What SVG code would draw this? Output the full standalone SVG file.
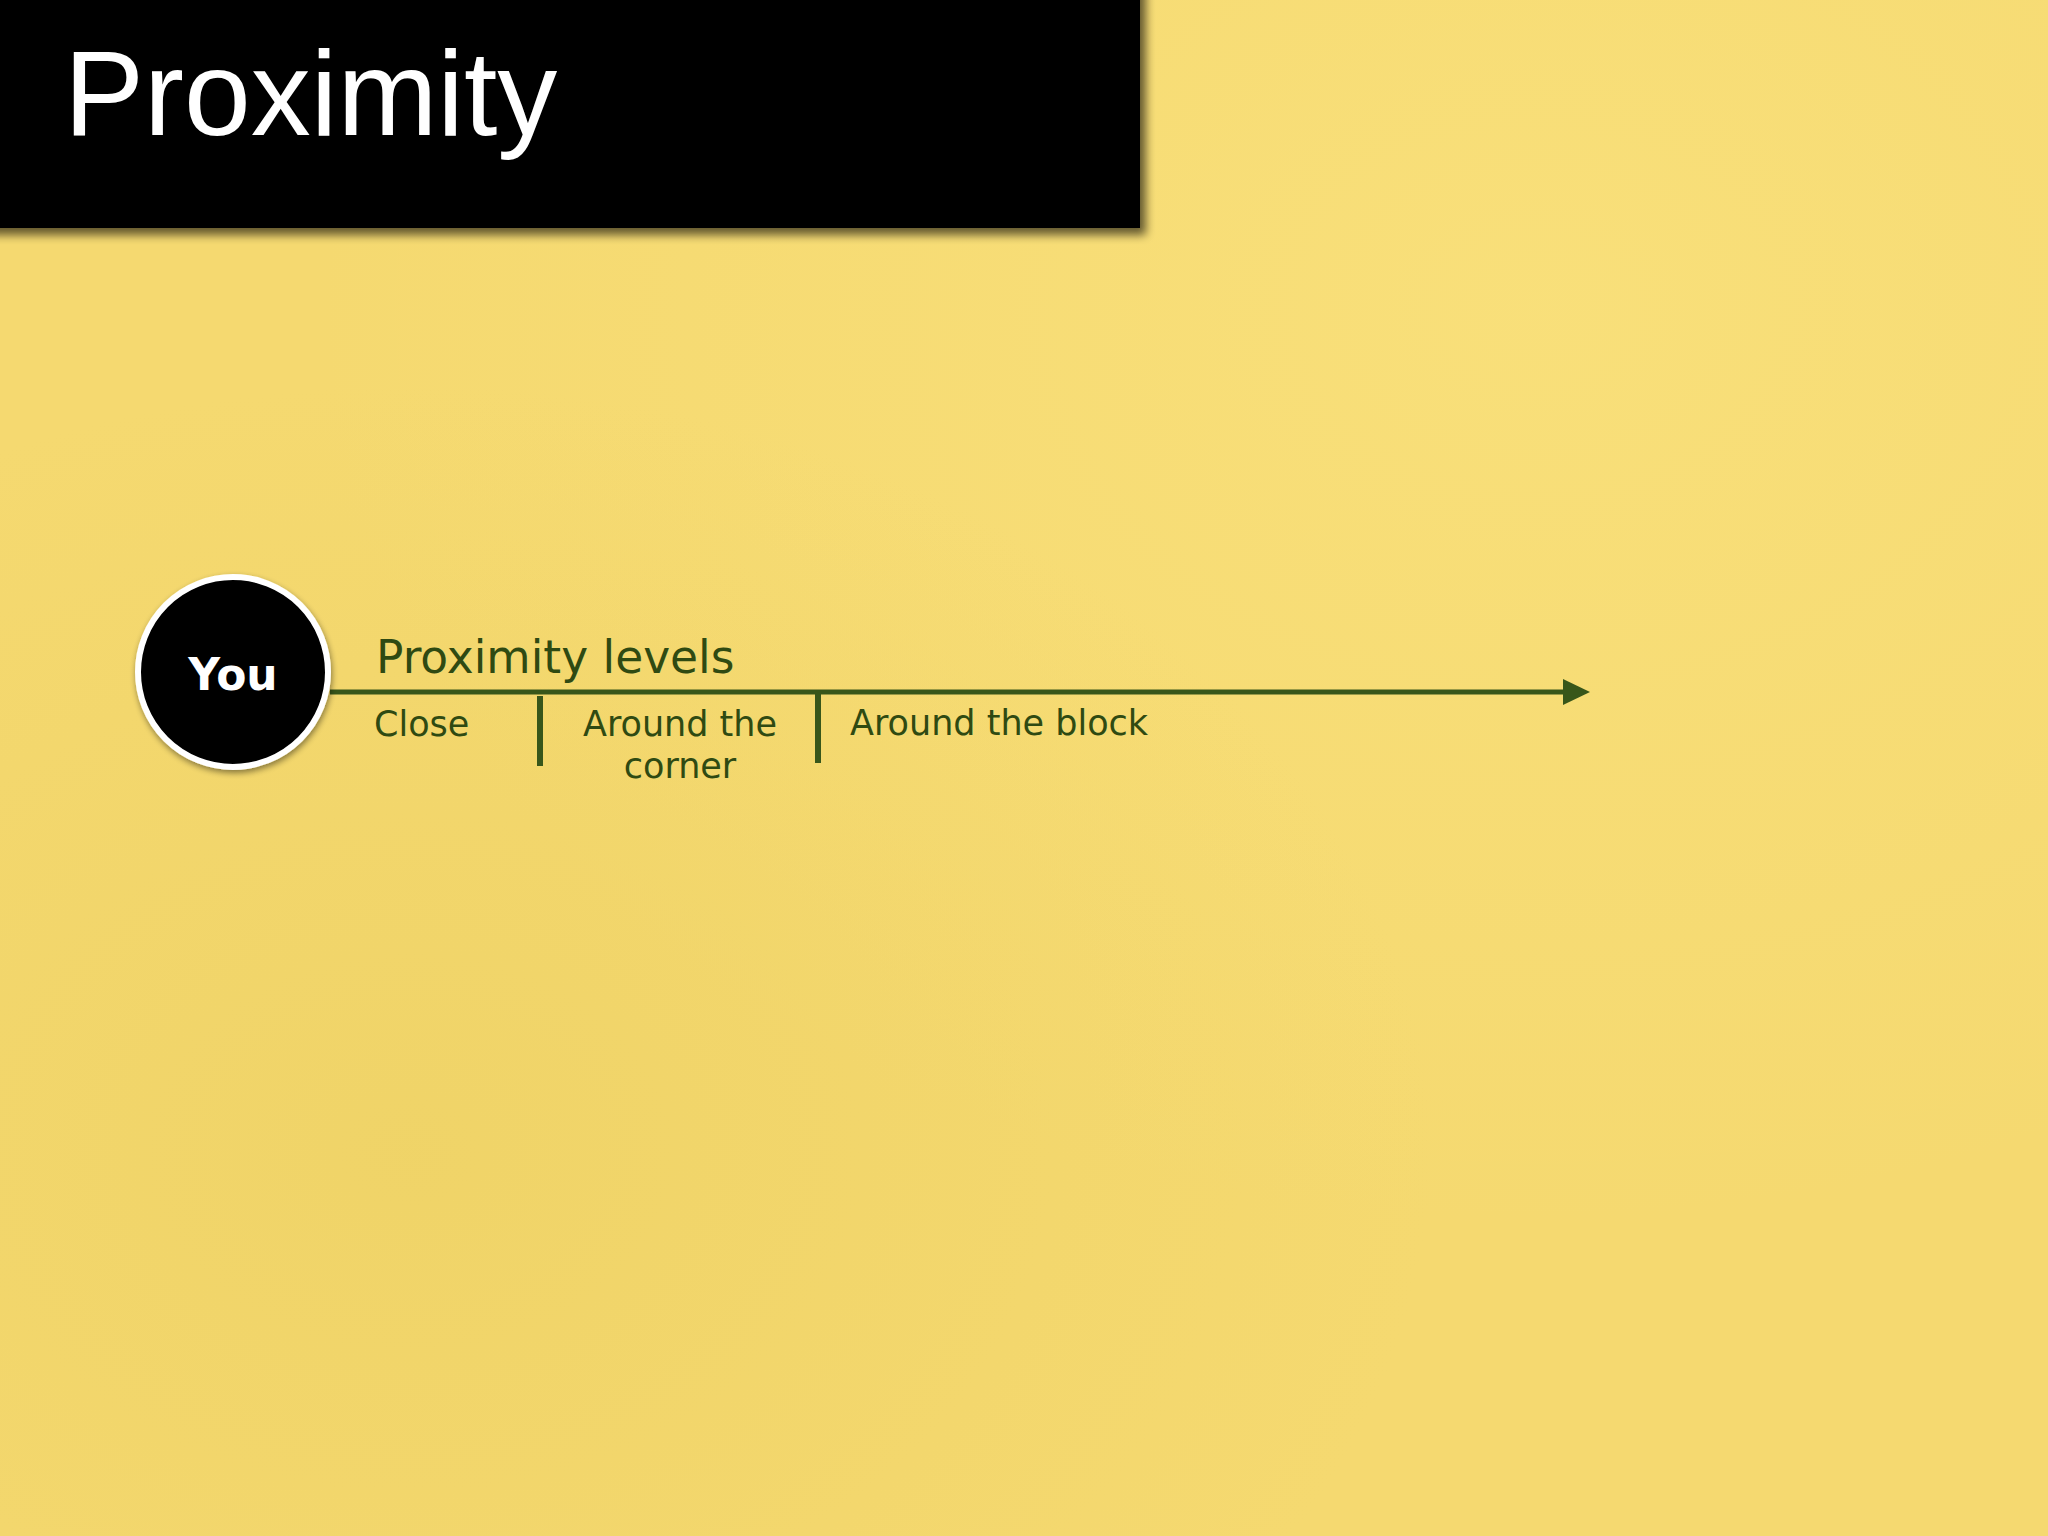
<svg xmlns="http://www.w3.org/2000/svg" width="2048" height="1536" viewBox="0 0 2048 1536">
  <defs>
    <radialGradient id="bgGlow1" cx="0.75" cy="0.2" r="0.6">
      <stop offset="0" stop-color="#fae27e" stop-opacity="0.7"/>
      <stop offset="1" stop-color="#fae27e" stop-opacity="0"/>
    </radialGradient>
    <radialGradient id="bgGlow2" cx="0.2" cy="0.75" r="0.5">
      <stop offset="0" stop-color="#ecd062" stop-opacity="0.6"/>
      <stop offset="1" stop-color="#ecd062" stop-opacity="0"/>
    </radialGradient>
    <filter id="barShadow" x="-5%" y="-10%" width="115%" height="130%">
      <feGaussianBlur in="SourceAlpha" stdDeviation="5"/>
      <feOffset dx="6" dy="7" result="b"/>
      <feComponentTransfer><feFuncA type="linear" slope="0.6"/></feComponentTransfer>
      <feMerge><feMergeNode/><feMergeNode in="SourceGraphic"/></feMerge>
    </filter>
    <filter id="circleShadow" x="-20%" y="-20%" width="140%" height="140%">
      <feGaussianBlur in="SourceAlpha" stdDeviation="3"/>
      <feOffset dx="1" dy="3" result="b"/>
      <feComponentTransfer><feFuncA type="linear" slope="0.45"/></feComponentTransfer>
      <feMerge><feMergeNode/><feMergeNode in="SourceGraphic"/></feMerge>
    </filter>
    <marker id="arrow" viewBox="0 0 27 26" markerWidth="27" markerHeight="26" refX="2" refY="13" orient="auto" markerUnits="userSpaceOnUse">
      <path d="M0,0 L27,13 L0,26 Z" fill="#38561a"/>
    </marker>
    <style>
      .lbl { font-family: "DejaVu Sans", Verdana, sans-serif; fill: #2f4a12; }
      .axis { stroke: #38561a; stroke-width: 5; fill: none; }
      .tick { stroke: #38561a; stroke-width: 6; }
    </style>
  </defs>

  <rect x="0" y="0" width="2048" height="1536" fill="#f5d970"/>
  <rect x="0" y="0" width="2048" height="1536" fill="url(#bgGlow1)"/>
  <rect x="0" y="0" width="2048" height="1536" fill="url(#bgGlow2)"/>

  <g id="title-bar">
    <rect x="-20" y="-20" width="1160" height="248" fill="#000" filter="url(#barShadow)"/>
    <text x="64" y="135" font-family="'Liberation Sans', Arial, sans-serif" font-size="120" fill="#ffffff">Proximity</text>
  </g>

  <g id="connectors">
    <line class="axis" x1="330" y1="692" x2="1565" y2="692" marker-end="url(#arrow)"/>
    <line class="tick" x1="540" y1="696" x2="540" y2="766"/>
    <line class="tick" x1="818" y1="694" x2="818" y2="763"/>
  </g>

  <g id="node-you">
    <circle cx="233" cy="672" r="95" fill="#000" stroke="#ffffff" stroke-width="6" filter="url(#circleShadow)"/>
    <text x="233" y="690" text-anchor="middle" font-family="'DejaVu Sans', Verdana, sans-serif" font-weight="bold" font-size="44" fill="#ffffff">You</text>
  </g>

  <g id="label-axis">
    <text class="lbl" x="376" y="673" font-size="45.5">Proximity levels</text>
  </g>
  <g id="level-close">
    <text class="lbl" x="374" y="736" font-size="35">Close</text>
  </g>
  <g id="level-corner">
    <text class="lbl" x="680" y="736" font-size="35" text-anchor="middle">Around the</text>
    <text class="lbl" x="680" y="778" font-size="35" text-anchor="middle">corner</text>
  </g>
  <g id="level-block">
    <text class="lbl" x="850" y="735" font-size="35">Around the block</text>
  </g>
</svg>
